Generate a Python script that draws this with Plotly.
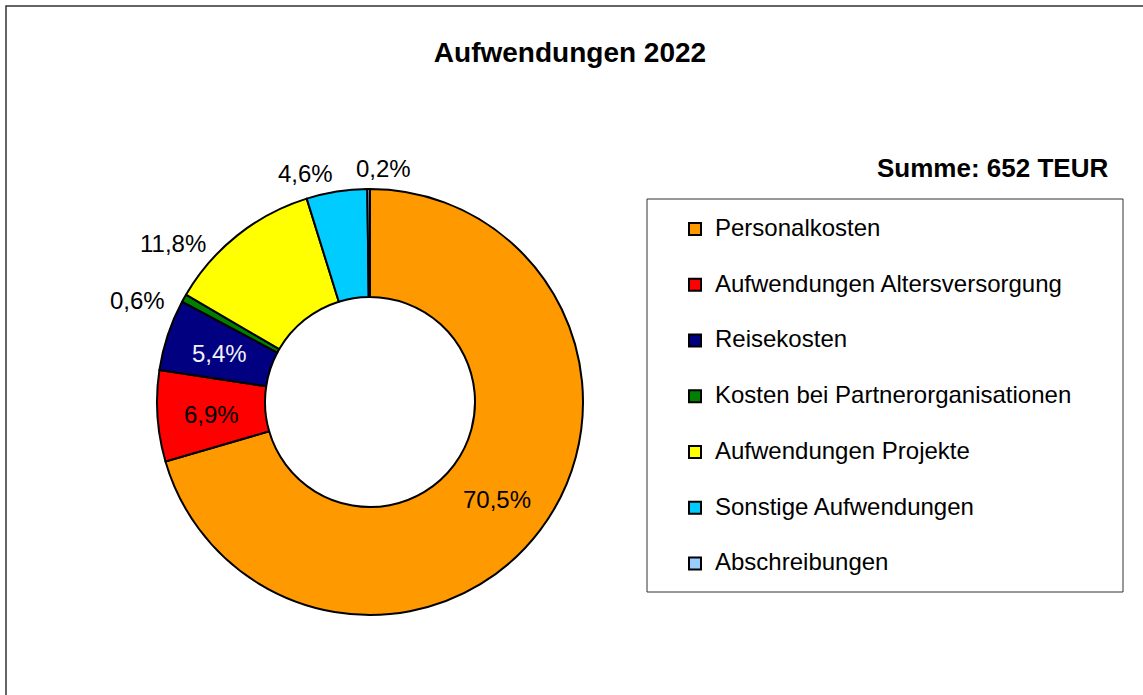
import math
import plotly.graph_objects as go

categories = ["Personalkosten", "Aufwendungen Altersversorgung", "Reisekosten",
              "Kosten bei Partnerorganisationen", "Aufwendungen Projekte",
              "Sonstige Aufwendungen", "Abschreibungen"]
shares = [70.5, 6.9, 5.4, 0.6, 11.8, 4.6, 0.2]
colors = ["#FF9900", "#FF0000", "#000080", "#008000", "#FFFF00", "#00CCFF", "#99CCFF"]
label_inside = [True, True, True, False, False, False, False]
label_color = ["black", "black", "#F0F0F8", "black", "black", "black", "black"]
title_text = "Aufwendungen 2022"
total_text = "Summe: 652 TEUR"

W, H = 1143, 695
FONT = "Arial, 'Liberation Sans', sans-serif"

cx, cy, R = 370, 402, 213
HOLE = 0.493
# outside label centres (pixels) for the small slices, as placed in the original
outside_pos = {3: (137, 298), 4: (173, 241), 5: (305, 172), 6: (383, 166)}

legend_labels = ['<span style="font-size:24px;baseline-shift:9px">%s</span>' % c for c in categories]

fig = go.Figure(go.Pie(
    labels=legend_labels,
    values=shares,
    sort=False,
    direction="clockwise",
    rotation=0,
    hole=HOLE,
    marker=dict(colors=colors, line=dict(color="black", width=2)),
    textinfo="none",
    domain=dict(x=[(cx - R) / W, (cx + R) / W], y=[(H - cy - R) / H, (H - cy + R) / H]),
    hoverinfo="label+percent",
))

def fmt(v):
    return ("%.1f" % v).replace(".", ",") + "%"

annotations = [
    dict(text="<b>%s</b>" % total_text, xref="paper", yref="paper", x=1110 / W, xanchor="right",
         y=1 - 168 / H, yanchor="middle", showarrow=False,
         font=dict(size=26, family=FONT, color="black")),
]
total = sum(shares)
cum = 0.0
r_mid = R * (1 + HOLE) / 2
for i, v in enumerate(shares):
    mid = (cum + v / 2) / total * 2 * math.pi
    cum += v
    if label_inside[i]:
        px = cx + r_mid * math.sin(mid)
        py = cy - r_mid * math.cos(mid)
    else:
        px, py = outside_pos[i]
    annotations.append(dict(text=fmt(100 * v / total), xref="paper", yref="paper",
                            x=px / W, y=1 - (py + 2) / H, xanchor="center", yanchor="middle",
                            showarrow=False,
                            font=dict(size=24, family=FONT, color=label_color[i])))

fig.update_layout(
    width=W, height=H,
    margin=dict(l=0, r=0, t=0, b=0),
    paper_bgcolor="white",
    separators=",.",
    font=dict(family=FONT, color="black"),
    title=dict(text="<b>%s</b>" % title_text, x=570 / W, xanchor="center",
               y=1 - 52 / H, yanchor="middle", font=dict(size=28, family=FONT, color="black")),
    showlegend=True,
    legend=dict(x=675 / W, xanchor="left", y=1 - 196 / H, yanchor="top",
                font=dict(size=40.6, family=FONT, color="black"),
                bgcolor="rgba(0,0,0,0)", borderwidth=0),
    shapes=[
        dict(type="rect", xref="paper", yref="paper", x0=6 / W, x1=1.02, y0=-0.02, y1=1 - 6 / H,
             line=dict(color="#333333", width=1.5)),
        dict(type="rect", xref="paper", yref="paper", x0=647 / W, x1=1123 / W,
             y0=1 - 592 / H, y1=1 - 199 / H, line=dict(color="#333333", width=1)),
    ],
    annotations=annotations,
)

fig.write_html("out.html", config={"displayModeBar": False},
               post_script="document.body.style.margin='0';")
